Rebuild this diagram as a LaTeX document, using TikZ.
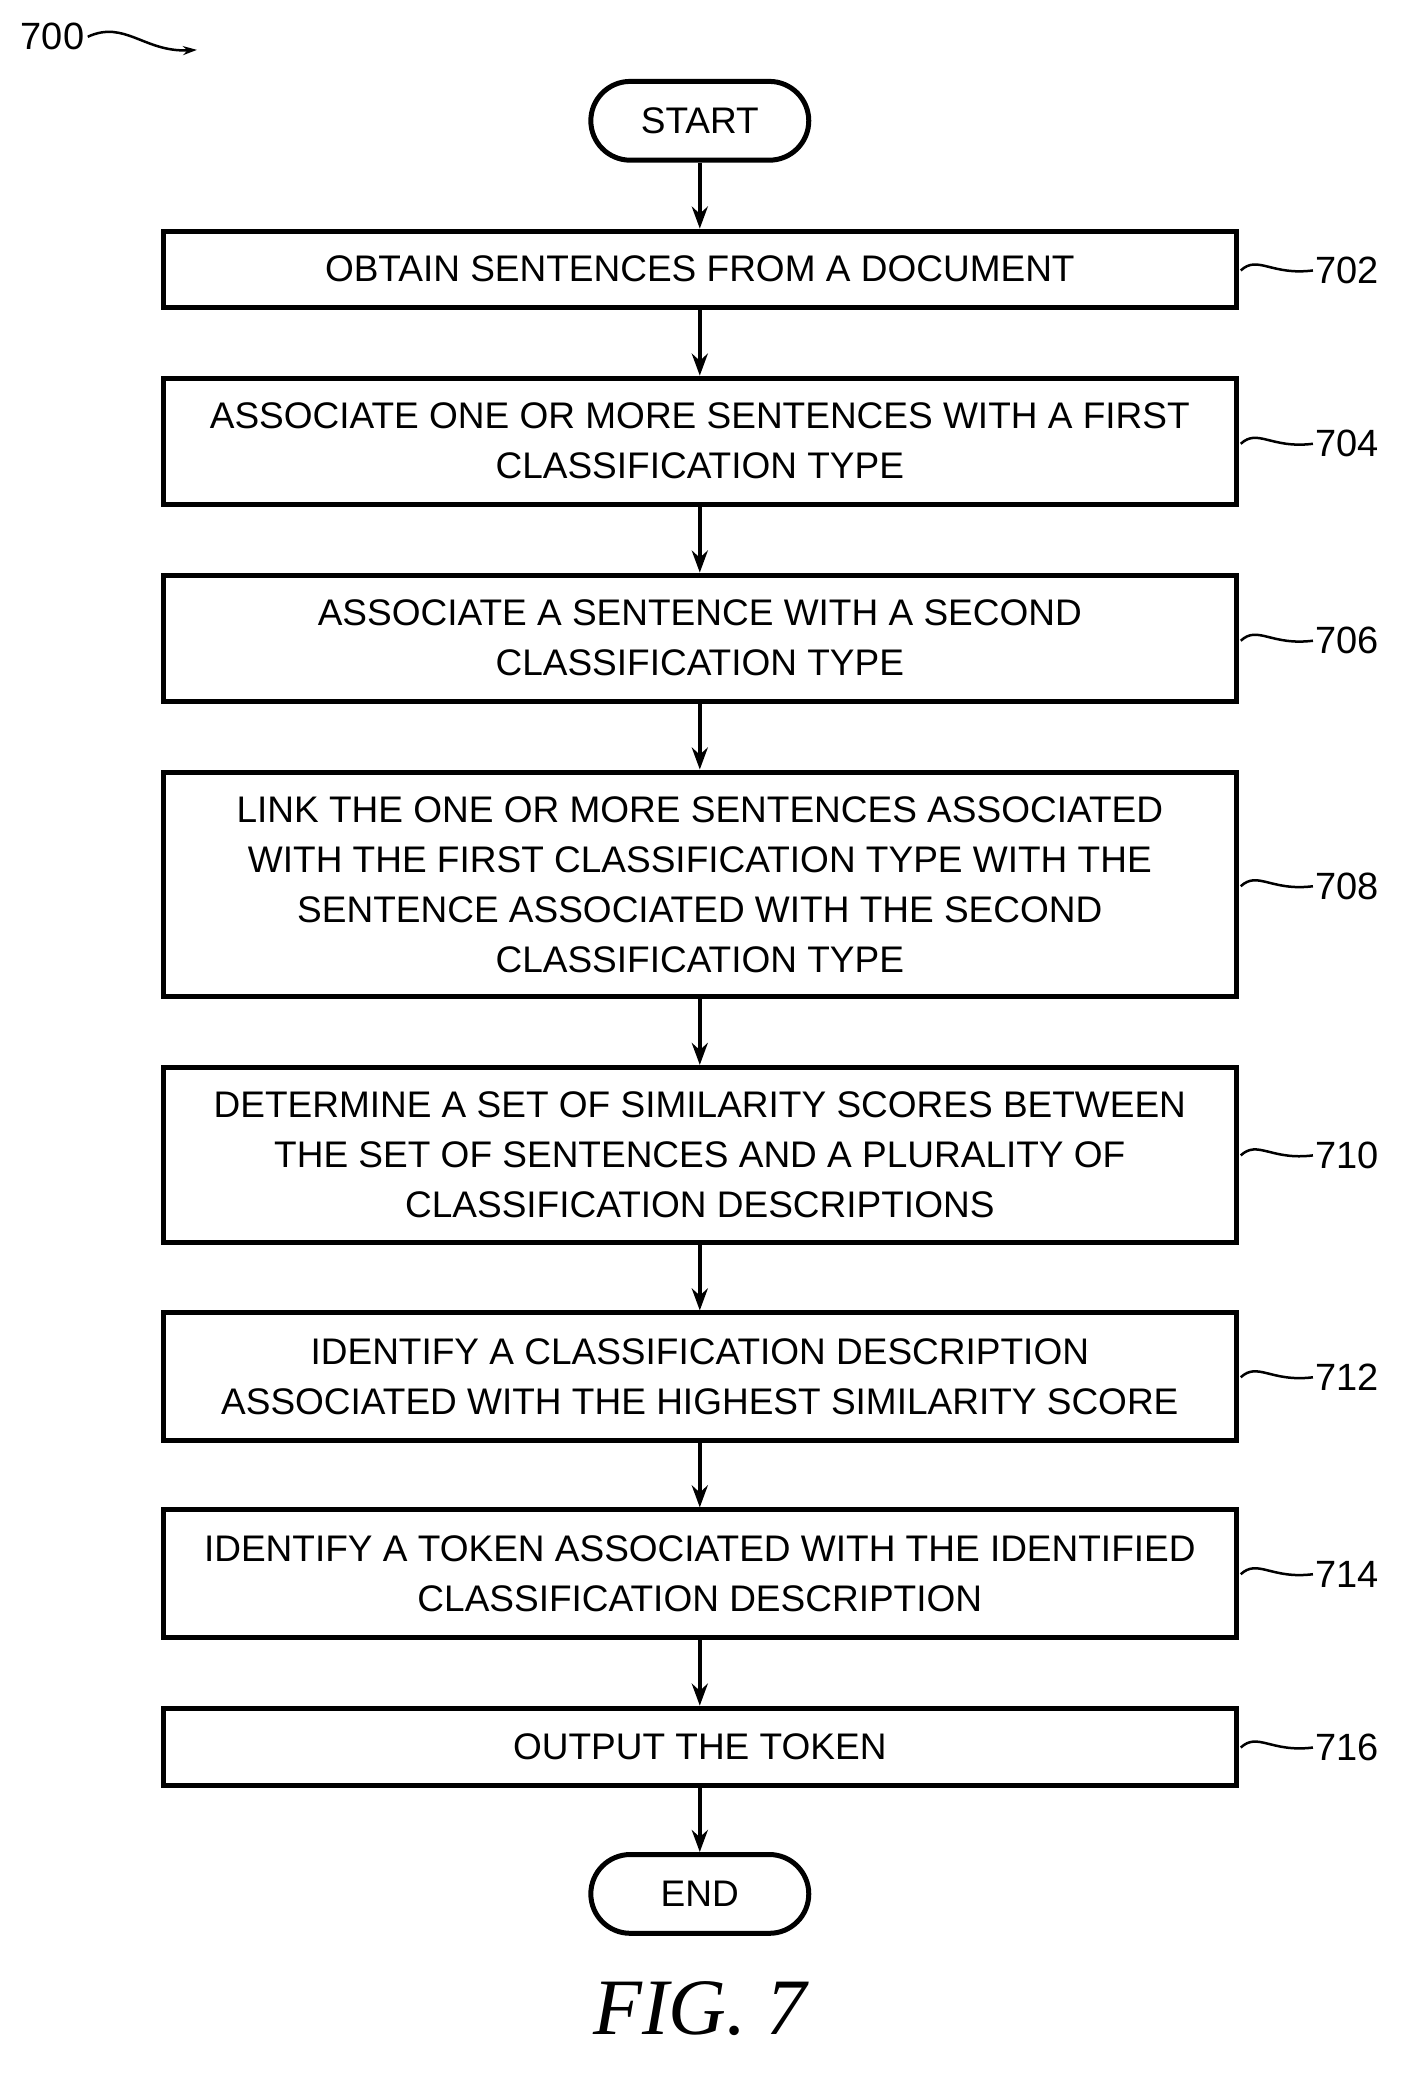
\documentclass[tikz,border=0pt]{standalone}
\usepackage{fontspec}
\setmainfont{Liberation Sans}
\newfontfamily\figfont{Liberation Serif}
\usetikzlibrary{arrows.meta}
\begin{document}
\begin{tikzpicture}[x=1.313pt,y=-1.313pt,
  box/.style={draw,line width=5pt,minimum width=817*1.313pt,align=center,font=\fontsize{37}{50}\selectfont,inner sep=0pt},
  term/.style={draw,line width=5pt,rounded corners=30*1.313pt,minimum width=166*1.313pt,minimum height=60*1.313pt,font=\fontsize{37}{50}\selectfont,inner sep=0pt},
  arr/.style={line width=4pt,-{Stealth[length=22pt,width=16pt]}},
  lab/.style={font=\fontsize{38}{50}\selectfont,anchor=west,inner sep=2pt},
  lead/.style={line width=2.5pt}]
\useasboundingbox (0,0) rectangle (1080,1585);
\node[term] (s) at (533,92) {START};
\node[box,minimum height=58*1.313pt] (b702) at (533,205) {OBTAIN SENTENCES FROM A DOCUMENT};
\node[box,minimum height=96*1.313pt] (b704) at (533,336) {ASSOCIATE ONE OR MORE SENTENCES WITH A FIRST\\CLASSIFICATION TYPE};
\node[box,minimum height=96*1.313pt] (b706) at (533,486) {ASSOCIATE A SENTENCE WITH A SECOND\\CLASSIFICATION TYPE};
\node[box,minimum height=171*1.313pt] (b708) at (533,673.5) {LINK THE ONE OR MORE SENTENCES ASSOCIATED\\WITH THE FIRST CLASSIFICATION TYPE WITH THE\\SENTENCE ASSOCIATED WITH THE SECOND\\CLASSIFICATION TYPE};
\node[box,minimum height=133*1.313pt] (b710) at (533,879.5) {DETERMINE A SET OF SIMILARITY SCORES BETWEEN\\THE SET OF SENTENCES AND A PLURALITY OF\\CLASSIFICATION DESCRIPTIONS};
\node[box,minimum height=97*1.313pt] (b712) at (533,1048.5) {IDENTIFY A CLASSIFICATION DESCRIPTION\\ASSOCIATED WITH THE HIGHEST SIMILARITY SCORE};
\node[box,minimum height=97*1.313pt] (b714) at (533,1198.5) {IDENTIFY A TOKEN ASSOCIATED WITH THE IDENTIFIED\\CLASSIFICATION DESCRIPTION};
\node[box,minimum height=59*1.313pt] (b716) at (533,1330.5) {OUTPUT THE TOKEN};
\node[term] (e) at (533,1442.5) {END};
\foreach \a/\b in {s/b702,b702/b704,b704/b706,b706/b708,b708/b710,b710/b712,b712/b714,b714/b716,b716/e}
  \draw[arr] (\a) -- (\b);
\foreach \n/\y in {702/206,704/338,706/488,708/675,710/880,712/1049,714/1199,716/1331}{
  \node[lab] (l\n) at (1000,\y) {\n};
  \draw[lead] (945,\y) .. controls (958,\y-12) and (968,\y+4) .. (l\n.west);
}
\node[font=\fontsize{38}{50}\selectfont] (l700) at (40,28) {700};
\coordinate (t700) at (150,38);
\draw[lead,-{Stealth[length=14pt,width=9pt]}] (l700.east) .. controls (95,15) and (110,40) .. (t700);
\node[font=\figfont\itshape\fontsize{80}{90}\selectfont] (fig) at (533,1530) {FIG. 7};
\end{tikzpicture}
\end{document}
